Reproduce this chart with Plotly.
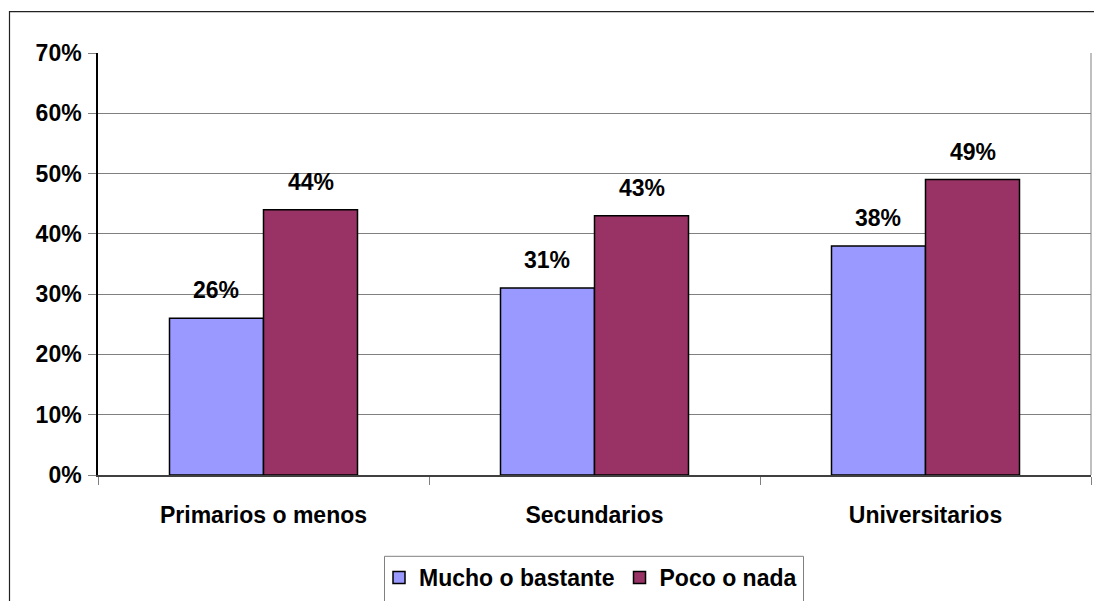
import plotly.graph_objects as go

categories = ["Primarios o menos", "Secundarios", "Universitarios"]
mucho = [0.26, 0.31, 0.38]
poco = [0.44, 0.43, 0.49]
series_names = ["Mucho o bastante", "Poco o nada"]
colors = ["#9999FF", "#993366"]
ytick_vals = [0, 0.1, 0.2, 0.3, 0.4, 0.5, 0.6, 0.7]

W, H = 1094, 601
ML, MR, MT, MB = 98, 3, 53, 125
pw = W - ML - MR
ph = H - MT - MB
FONT = "Liberation Sans, Arial, sans-serif"

fig = go.Figure()
for name, vals, col in zip(series_names, [mucho, poco], colors):
    fig.add_trace(go.Bar(
        x=categories, y=vals, name=name,
        marker=dict(color=col, line=dict(color="black", width=1.5)),
    ))

# data labels
bar_px = pw / 3 * (1 - 0.432) / 2
annotations = []
for vals, sgn in [(mucho, -1), (poco, 1)]:
    for c, v in zip(categories, vals):
        annotations.append(dict(
            x=c, y=v, xref="x", yref="y", text=f"{round(v*100)}%",
            showarrow=False, xshift=sgn * bar_px / 2, yshift=28,
            yanchor="middle",
            font=dict(family=FONT, size=23, color="black", weight="bold"),
        ))

def px_to_paper_x(px):
    return (px - ML) / pw

def px_to_paper_y(py):
    return (H - MB - py) / ph

shapes = [
    # outer chart frame
    dict(type="rect", xref="paper", yref="paper",
         x0=px_to_paper_x(9.5), x1=px_to_paper_x(1110),
         y0=px_to_paper_y(620), y1=px_to_paper_y(11.5),
         line=dict(color="#222222", width=1.2), fillcolor="rgba(0,0,0,0)", layer="below"),
    # right border of plot area
    dict(type="line", xref="paper", yref="paper", x0=1, x1=1, y0=0, y1=1,
         line=dict(color="#808080", width=1)),
    # legend frame (extends past bottom edge as in the reference)
    dict(type="rect", xref="paper", yref="paper",
         x0=px_to_paper_x(384.5), x1=px_to_paper_x(803.5),
         y0=px_to_paper_y(620), y1=px_to_paper_y(557.5),
         line=dict(color="#808080", width=1), fillcolor="white", layer="below"),
]

fig.update_layout(
    width=W, height=H,
    margin=dict(l=ML, r=MR, t=MT, b=MB),
    paper_bgcolor="white", plot_bgcolor="white",
    barmode="group", bargap=0.432, bargroupgap=0,
    font=dict(family=FONT, size=23, color="black"),
    showlegend=True,
    legend=dict(
        orientation="h", x=px_to_paper_x(379), y=px_to_paper_y(556),
        xanchor="left", yanchor="top",
        borderwidth=0, bgcolor="rgba(0,0,0,0)",
        font=dict(family=FONT, size=23, color="black", weight="bold"),
        itemwidth=30, tracegroupgap=0,
    ),
    annotations=annotations,
    shapes=shapes,
)

fig.update_xaxes(
    type="category",
    showgrid=False, showline=True, linecolor="#404040", linewidth=2,
    ticks="outside", tickson="boundaries", ticklen=8, tickcolor="#808080",
    tickfont=dict(family=FONT, size=23, color="black", weight="bold"),
    ticklabelstandoff=18,
    zeroline=False,
)
fig.update_yaxes(
    range=[0, 0.7], tickvals=ytick_vals, tickformat=".0%",
    showgrid=True, gridcolor="#808080", gridwidth=1,
    showline=True, linecolor="black", linewidth=1.5,
    ticks="outside", ticklen=8, tickcolor="#808080",
    tickfont=dict(family=FONT, size=23, color="black", weight="bold"),
    ticklabelstandoff=2,
    zeroline=False,
)

fig.write_html(
    "out.html",
    config={"displayModeBar": False},
    post_script="document.body.style.margin='0';document.body.style.overflow='hidden';",
)
